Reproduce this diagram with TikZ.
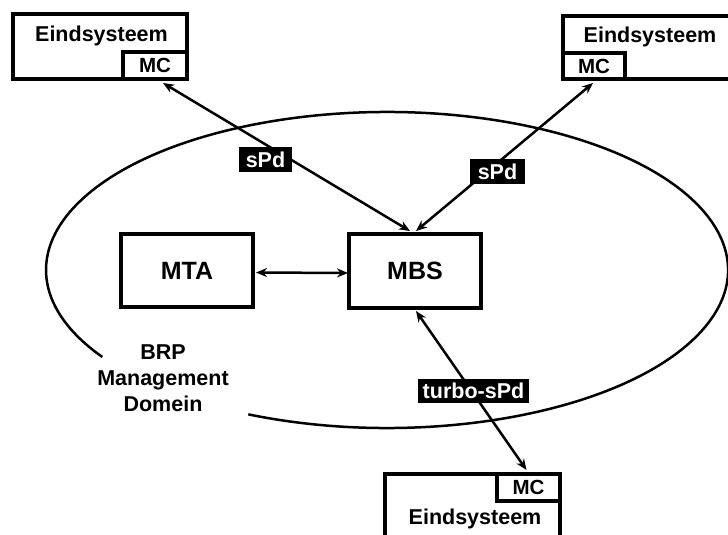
\documentclass[tikz,border=0pt]{standalone}
\usepackage{fontspec}
\setmainfont{Liberation Sans}
\usetikzlibrary{arrows.meta}
\begin{document}
\begin{tikzpicture}[x=1pt,y=1pt,
  box/.style={draw, line width=4pt, inner sep=0pt, font=\fontsize{25}{30}\selectfont\bfseries},
  frame/.style={draw, line width=4pt, inner sep=0pt},
  mcbox/.style={draw, line width=4pt, inner sep=0pt, font=\fontsize{20.5}{24}\selectfont\bfseries},
  txt/.style={inner sep=0pt, font=\fontsize{21.5}{26}\selectfont\bfseries},
  tag/.style={fill=black, text=white, inner sep=0pt, font=\fontsize{21.5}{26}\selectfont\bfseries},
  link/.style={line width=2.5pt, {Stealth[length=11pt,width=9pt]}-{Stealth[length=11pt,width=9pt]}}]
\useasboundingbox (0,0) rectangle (728,-535);
\clip (0,0) rectangle (728,-535);
% domain ellipse with gap for label
\coordinate (ec) at (387,-270);
\draw[line width=2.5pt] (ec) ++(246:341pt and 158pt)
  arc[start angle=246, end angle=573.4, x radius=341pt, y radius=158pt];
\node[txt, align=center] (brp) at (163,-378) {BRP\\Management\\Domein};
% central boxes
\node[box, minimum width=132pt, minimum height=73pt] (mta) at (187,-270.5) {MTA};
\node[box, minimum width=132pt, minimum height=74pt] (mbs) at (415,-271) {MBS};
% end system top-left
\node[frame, minimum width=174pt, minimum height=65pt] (es1) at (100,-46.5) {};
\node[mcbox, minimum width=64pt, minimum height=27pt] (mc1) at (155,-65.5) {MC};
\node[txt, anchor=base] (t1) at (101.5,-42) {Eindsysteem};
% end system top-right
\node[frame, minimum width=197pt, minimum height=63pt] (es2) at (661.5,-47.5) {};
\node[mcbox, minimum width=62pt, minimum height=26pt] (mc2) at (594,-66) {MC};
\node[txt, anchor=base] (t2) at (650,-43) {Eindsysteem};
% end system bottom
\node[frame, minimum width=175pt, minimum height=86pt] (es3) at (472.5,-517) {};
\node[mcbox, minimum width=63pt, minimum height=27pt] (mc3) at (528.5,-487.5) {MC};
\node[txt, anchor=base] (t3) at (475,-524) {Eindsysteem};
% connectors
\draw[link] ([xshift=8pt,yshift=-2pt]mc1.south) -- ([xshift=-5pt,yshift=1pt]mbs.north);
\draw[link] ([xshift=-1pt,yshift=-2pt]mc2.south) -- ([xshift=1pt,yshift=1pt]mbs.north);
\draw[link] ([xshift=1pt,yshift=-2pt]mta.east) -- ([xshift=1pt,yshift=-2pt]mbs.west);
\draw[link] ([xshift=1pt,yshift=-1pt]mbs.south) -- ([xshift=-2pt,yshift=2pt]mc3.north);
% labels
\node[tag, minimum width=53pt, minimum height=25pt] (l1) at (265.5,-159.5) {sPd};
\node[tag, minimum width=55pt, minimum height=25pt] (l2) at (497.5,-171.5) {sPd};
\node[tag, minimum width=111pt, minimum height=24pt] (l3) at (473.5,-391) {turbo-sPd};
\end{tikzpicture}
\end{document}
